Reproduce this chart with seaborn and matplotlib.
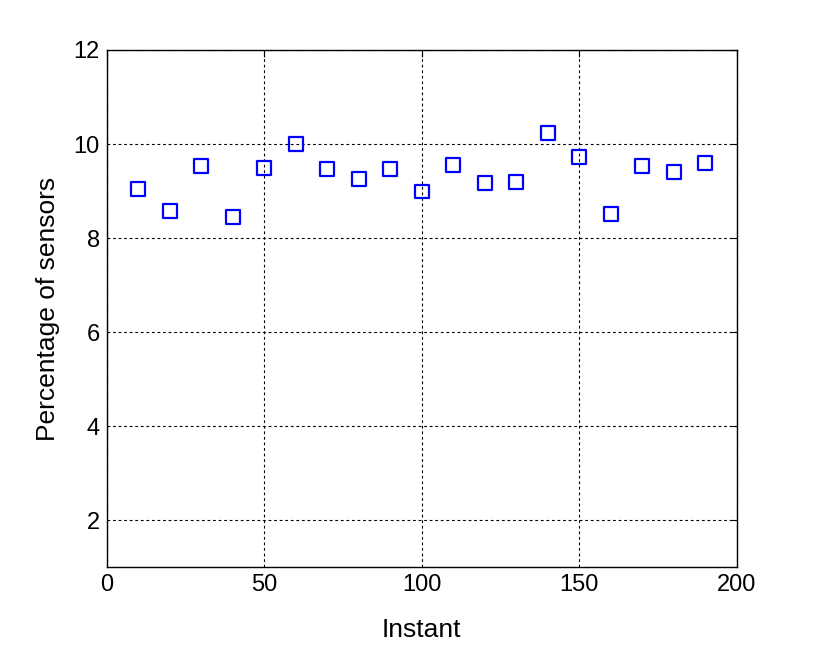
import matplotlib
matplotlib.use("Agg")
import matplotlib.pyplot as plt
import numpy as np
import pandas as pd
import seaborn as sns

# Data
instants = [10, 20, 30, 40, 50, 60, 70, 80, 90, 100,
            110, 120, 130, 140, 150, 160, 170, 180, 190]
percent = [9.04, 8.58, 9.53, 8.45, 9.49, 10.01, 9.47, 9.26, 9.47, 8.99,
           9.55, 9.17, 9.19, 10.23, 9.72, 8.51, 9.53, 9.40, 9.60]
x_ticks = [0, 50, 100, 150, 200]
y_ticks = [2, 4, 6, 8, 10, 12]

df = pd.DataFrame({"Instant": instants, "Percentage of sensors": percent})

sns.set_style("white")
plt.rcParams['font.family'] = ['Liberation Sans', 'DejaVu Sans']
plt.rcParams['text.color'] = 'black'
plt.rcParams['axes.labelcolor'] = 'black'

fig = plt.figure(figsize=(8.16, 6.72), dpi=100)
ax = fig.add_axes([0.1308, 0.1558, 0.7722, 0.7698])

sns.scatterplot(data=df, x="Instant", y="Percentage of sensors", ax=ax,
                marker="s", s=100, facecolor="none", edgecolor="#0000ff",
                linewidth=1.6, legend=False, zorder=3)

ax.set_xlim(0, 200)
ax.set_ylim(1, 12)
ax.set_xticks(x_ticks)
ax.set_yticks(y_ticks)
ax.grid(True, color="black", linestyle=(0, (2.5, 2.5)), linewidth=0.8)
ax.tick_params(direction="in", length=5, width=0.8, top=True, right=True,
               labelsize=17, colors="black", pad=5)
for sp in ax.spines.values():
    sp.set_color("black")
    sp.set_linewidth(1.0)

ax.set_xlabel("Instant", fontsize=19, labelpad=16)
ax.set_ylabel("Percentage of sensors", fontsize=19, labelpad=10)

fig.savefig("out.png", dpi=100)
